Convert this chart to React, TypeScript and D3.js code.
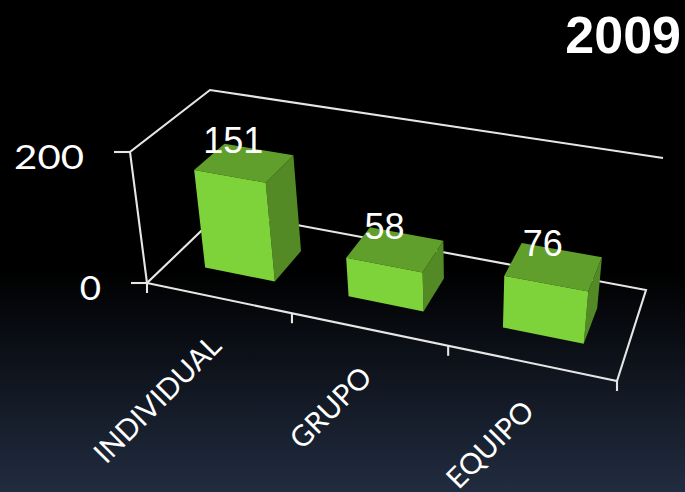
import React from "react";
import * as d3 from "d3";

const categories = ["INDIVIDUAL", "GRUPO", "EQUIPO"];
const values = [151, 58, 76];
const yTicks = [0, 200];
const title = "2009";

const WIDTH = 685;
const HEIGHT = 492;

type Pt = [number, number];
type Quad = [Pt, Pt, Pt, Pt];

// Projective map from the unit square onto a quad (front-left, front-right, back-right, back-left).
function homography(q: Quad) {
  const [[x0, y0], [x1, y1], [x2, y2], [x3, y3]] = q;
  const dx1 = x1 - x2, dx2 = x3 - x2, sx = x0 - x1 + x2 - x3;
  const dy1 = y1 - y2, dy2 = y3 - y2, sy = y0 - y1 + y2 - y3;
  const den = dx1 * dy2 - dx2 * dy1;
  const g = (sx * dy2 - dx2 * sy) / den;
  const h = (dx1 * sy - sx * dy1) / den;
  const a = x1 - x0 + g * x1, b = x3 - x0 + h * x3;
  const d = y1 - y0 + g * y1, e = y3 - y0 + h * y3;
  return (u: number, t: number): Pt => {
    const w = g * u + h * t + 1;
    return [(a * u + b * t + x0) / w, (d * u + e * t + y0) / w];
  };
}

const floorQuad: Quad = [[147, 283], [617, 381], [646, 290], [222, 211]];
const ceilQuad: Quad = [[130, 152], [634, 241], [663, 158], [210, 90]];
const floorMap = homography(floorQuad);
const ceilMap = homography(ceilQuad);

const heightScale = d3.scaleLinear().domain([0, 200]).range([0, 1]);
const uScale = d3.scaleBand<string>().domain(categories).range([0, 1]).paddingInner(0.505).paddingOuter(0.2525);
const DEPTH_NEAR = 0.29;
const DEPTH_FAR = 0.69;

function project(u: number, depth: number, value: number): Pt {
  const k = heightScale(value);
  const [fx, fy] = floorMap(u, depth);
  const [cx, cy] = ceilMap(u, depth);
  return [fx + (cx - fx) * k, fy + (cy - fy) * k];
}

const pts = (list: Pt[]) => list.map((p) => p.join(",")).join(" ");
const linePath = d3.line();

const AXIS = "#e6e6e6";
const FRONT = "#7fd33a";
const TOP = "#609f2c";
const SIDE = "#538a25";
const LABEL_FONT = "Lato, 'Open Sans', sans-serif";
const VALUE_FONT = "'Liberation Sans', Arial, sans-serif";

export default function App() {
  const FL = floorQuad[0], FR = floorQuad[1], BR = floorQuad[2], BL = floorQuad[3];
  const tFL = ceilQuad[0], tBL = ceilQuad[3], tBR = ceilQuad[2];
  const step = 1 / categories.length;

  return (
    <svg
      width={WIDTH}
      height={HEIGHT}
      viewBox={`0 0 ${WIDTH} ${HEIGHT}`}
      style={{ position: "absolute", left: 0, top: 0, display: "block" }}
    >
      <defs>
        <linearGradient id="bg" x1="0" y1="0" x2="0" y2="1">
          <stop offset="0.55" stopColor="#000000" />
          <stop offset="1" stopColor="#212c40" />
        </linearGradient>
      </defs>
      <rect width={WIDTH} height={HEIGHT} fill="url(#bg)" />

      {/* floor and wall outlines */}
      <g fill="none" stroke={AXIS} strokeWidth={2.1}>
        <path d={linePath([FL, FR, BR, BL, FL]) + "Z"} />
        <path d={linePath([FL, tFL, tBL, tBR]) ?? ""} />
        {yTicks.map((t) => {
          const p = project(0, 0, t);
          return <line key={t} x1={p[0] - 16} y1={p[1]} x2={p[0]} y2={p[1]} />;
        })}
        {d3.range(categories.length + 1).map((i) => {
          const p = project(i * step, 0, 0);
          return <line key={i} x1={p[0]} y1={p[1]} x2={p[0]} y2={p[1] + 10} />;
        })}
      </g>

      {/* value axis labels */}
      {yTicks.map((t) => {
        const p = project(0, 0, t);
        const w = String(t).length * 23.3 - (t === 0 ? 2 : 0);
        return (
          <text
            key={t}
            x={p[0] - 46}
            y={p[1] + 17}
            textAnchor="end"
            fill="#ffffff"
            fontFamily={LABEL_FONT}
            fontSize={32}
            textLength={w}
            lengthAdjust="spacingAndGlyphs"
          >
            {t}
          </text>
        );
      })}

      {/* bars */}
      {categories.map((c, i) => {
        const u0 = uScale(c) as number;
        const u1 = u0 + uScale.bandwidth();
        const v = values[i];
        const a0 = project(u0, DEPTH_NEAR, 0);
        const b0 = project(u1, DEPTH_NEAR, 0);
        const c0 = project(u1, DEPTH_FAR, 0);
        const a1 = project(u0, DEPTH_NEAR, v);
        const b1 = project(u1, DEPTH_NEAR, v);
        const c1 = project(u1, DEPTH_FAR, v);
        const d1 = project(u0, DEPTH_FAR, v);
        const mid = project((u0 + u1) / 2, (DEPTH_NEAR + DEPTH_FAR) / 2, v);
        return (
          <g key={c}>
            <polygon points={pts([b0, c0, c1, b1])} fill={SIDE} />
            <polygon points={pts([a1, b1, c1, d1])} fill={TOP} />
            <polygon points={pts([a0, b0, b1, a1])} fill={FRONT} />
            <text
              x={mid[0] - 11}
              y={mid[1] - 10}
              textAnchor="middle"
              fill="#ffffff"
              fontFamily={VALUE_FONT}
              fontSize={36}
            >
              {v}
            </text>
          </g>
        );
      })}

      {/* category labels, rotated and ending under each slot */}
      {categories.map((c, i) => {
        const p = project((i + 0.5) * step, 0, 0);
        const x = p[0] + 5;
        const y = p[1] + 50;
        return (
          <text
            key={c}
            transform={`translate(${x},${y}) rotate(-45)`}
            textAnchor="end"
            fill="#ffffff"
            fontFamily={LABEL_FONT}
            fontSize={29}
          >
            {c}
          </text>
        );
      })}

      <text
        x={681}
        y={53}
        textAnchor="end"
        fill="#ffffff"
        fontFamily={VALUE_FONT}
        fontWeight="bold"
        fontSize={52}
      >
        {title}
      </text>
    </svg>
  );
}
